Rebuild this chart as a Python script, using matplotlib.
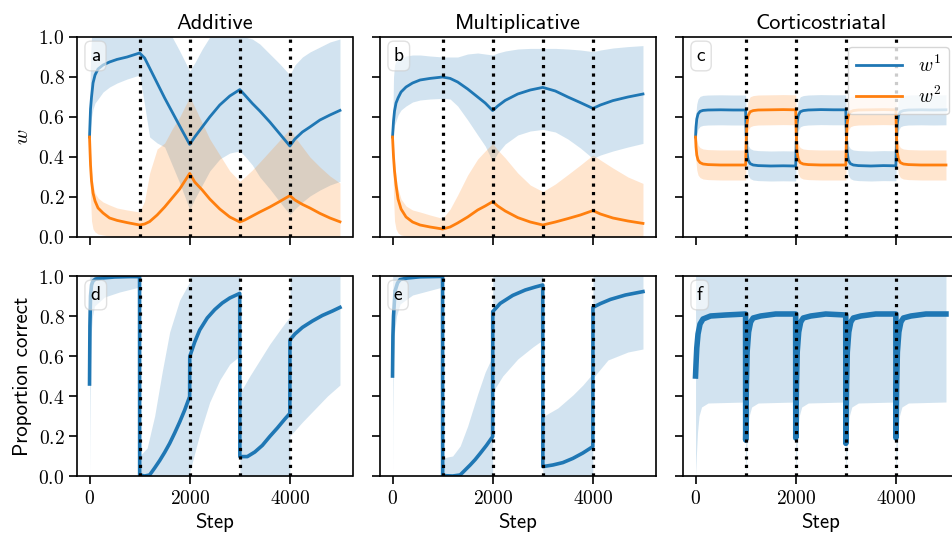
import matplotlib
matplotlib.use("Agg")
import matplotlib.pyplot as plt
from matplotlib.ticker import FuncFormatter
from matplotlib.lines import Line2D

plt.rcParams['mathtext.fontset'] = 'cm'
plt.rcParams['axes.unicode_minus'] = False

BLUE = '#1f77b4'
ORANGE = '#ff7f0e'

titles = ['Additive', 'Multiplicative', 'Corticostriatal']
letters = [['a', 'b', 'c'], ['d', 'e', 'f']]
reversals = [1000, 2000, 3000, 4000]
xticks = [0, 2000, 4000]
yticks = [0.0, 0.2, 0.4, 0.6, 0.8, 1.0]

# ---------------- Panel a (Additive, weights) ----------------
a_step = [0, 20, 40, 70, 110, 170, 270, 400, 550, 750, 1000, 1100, 1200, 1350, 1500,
          1650, 1800, 2000, 2100, 2250, 2400, 2600, 2800, 3000, 3100, 3250, 3400, 3600,
          3800, 4000, 4100, 4250, 4400, 4600, 4800, 5000]
a_w1 = [0.50, 0.64, 0.70, 0.77, 0.81, 0.84, 0.86, 0.875, 0.888, 0.90, 0.92, 0.895, 0.845,
        0.77, 0.695, 0.625, 0.555, 0.463, 0.50, 0.55, 0.60, 0.66, 0.705, 0.737, 0.71,
        0.668, 0.63, 0.575, 0.515, 0.455, 0.49, 0.525, 0.55, 0.585, 0.61, 0.633]
a_w2 = [0.50, 0.36, 0.28, 0.22, 0.18, 0.145, 0.12, 0.095, 0.083, 0.072, 0.060, 0.065,
        0.077, 0.11, 0.15, 0.195, 0.24, 0.318, 0.275, 0.235, 0.19, 0.14, 0.10, 0.075,
        0.085, 0.105, 0.125, 0.15, 0.178, 0.207, 0.185, 0.163, 0.145, 0.118, 0.095, 0.076]
a_w1_hi = [0.50, 0.90, 1.0, 1.0, 1.0, 1.0, 1.0, 1.0, 1.0, 1.0, 1.0, 1.0, 1.0, 1.0, 1.0,
           1.0, 0.93, 0.83, 0.87, 0.94, 1.0, 1.0, 1.0, 1.0, 1.0, 0.99, 0.965, 0.915,
           0.865, 0.81, 0.86, 0.90, 0.925, 0.95, 0.975, 0.99]
a_w1_lo = [0.50, 0.55, 0.60, 0.64, 0.67, 0.69, 0.725, 0.75, 0.77, 0.79, 0.81, 0.66, 0.50,
           0.47, 0.45, 0.36, 0.27, 0.137, 0.19, 0.26, 0.33, 0.39, 0.42, 0.43, 0.405,
           0.36, 0.30, 0.24, 0.175, 0.112, 0.14, 0.175, 0.205, 0.235, 0.26, 0.278]
a_w2_hi = [0.50, 0.42, 0.33, 0.26, 0.22, 0.195, 0.175, 0.16, 0.145, 0.135, 0.125, 0.18,
           0.32, 0.44, 0.47, 0.54, 0.60, 0.70, 0.65, 0.57, 0.49, 0.41, 0.33, 0.278, 0.30,
           0.335, 0.375, 0.43, 0.485, 0.54, 0.50, 0.45, 0.40, 0.35, 0.305, 0.27]
a_w2_lo = [0.50, 0.20, 0.08, 0.04, 0.025, 0.015, 0.01, 0.005, 0.0, 0.0, 0.0, 0.0, 0.0,
           0.0, 0.0, 0.0, 0.0, 0.0, 0.0, 0.0, 0.0, 0.0, 0.0, 0.0, 0.0, 0.0, 0.0, 0.0,
           0.0, 0.0, 0.0, 0.0, 0.0, 0.0, 0.0, 0.0]

# ---------------- Panel b (Multiplicative, weights) ----------------
b_step = [0, 20, 40, 70, 110, 170, 270, 400, 550, 750, 1000, 1150, 1300, 1500, 1700,
          1850, 2000, 2100, 2250, 2500, 2750, 3000, 3250, 3500, 3750, 4000, 4150, 4400,
          4700, 5000]
b_w1 = [0.50, 0.58, 0.63, 0.67, 0.695, 0.725, 0.75, 0.77, 0.785, 0.793, 0.80, 0.793,
        0.775, 0.74, 0.70, 0.67, 0.632, 0.655, 0.683, 0.715, 0.735, 0.748, 0.73, 0.70,
        0.672, 0.643, 0.66, 0.682, 0.70, 0.715]
b_w2 = [0.50, 0.40, 0.33, 0.26, 0.19, 0.14, 0.10, 0.075, 0.06, 0.05, 0.04, 0.05, 0.07,
        0.10, 0.135, 0.155, 0.177, 0.155, 0.13, 0.097, 0.075, 0.06, 0.075, 0.092, 0.11,
        0.132, 0.115, 0.095, 0.08, 0.068]
b_w1_hi = [0.50, 0.80, 0.86, 0.88, 0.885, 0.89, 0.905, 0.91, 0.91, 0.905, 0.90, 0.90,
           0.90, 0.915, 0.92, 0.915, 0.91, 0.92, 0.93, 0.94, 0.943, 0.943, 0.943, 0.94,
           0.935, 0.927, 0.935, 0.945, 0.952, 0.957]
b_w1_lo = [0.50, 0.53, 0.56, 0.58, 0.61, 0.635, 0.655, 0.675, 0.685, 0.69, 0.693, 0.69,
           0.655, 0.585, 0.51, 0.455, 0.377, 0.42, 0.465, 0.51, 0.53, 0.538, 0.525, 0.49,
           0.445, 0.393, 0.41, 0.43, 0.45, 0.468]
b_w2_hi = [0.50, 0.45, 0.38, 0.30, 0.24, 0.19, 0.155, 0.135, 0.125, 0.11, 0.093, 0.14,
           0.21, 0.31, 0.39, 0.43, 0.468, 0.435, 0.395, 0.32, 0.26, 0.227, 0.265, 0.312,
           0.36, 0.41, 0.385, 0.345, 0.30, 0.268]
b_w2_lo = [0.50, 0.20, 0.08, 0.04, 0.02, 0.01, 0.005, 0.0, 0.0, 0.0, 0.0, 0.0, 0.0, 0.0,
           0.0, 0.0, 0.0, 0.0, 0.0, 0.0, 0.0, 0.0, 0.0, 0.0, 0.0, 0.0, 0.0, 0.0, 0.0, 0.0]

# ---------------- Panel c (Corticostriatal, weights) ----------------
c_step = [0, 10, 25, 50, 90, 150, 250, 500, 750,
          1000, 1010, 1025, 1050, 1090, 1150, 1250, 1500, 1750,
          2000, 2010, 2025, 2050, 2090, 2150, 2250, 2500, 2750,
          3000, 3010, 3025, 3050, 3090, 3150, 3250, 3500, 3750,
          4000, 4010, 4025, 4050, 4090, 4150, 4250, 4500, 4750, 5000]
c_w1 = [0.50, 0.55, 0.59, 0.615, 0.628, 0.633, 0.635, 0.636, 0.635,
        0.635, 0.52, 0.43, 0.385, 0.367, 0.36, 0.357, 0.355, 0.356,
        0.355, 0.47, 0.56, 0.607, 0.626, 0.632, 0.635, 0.637, 0.636,
        0.636, 0.52, 0.43, 0.385, 0.367, 0.36, 0.357, 0.355, 0.357,
        0.356, 0.47, 0.56, 0.607, 0.626, 0.632, 0.635, 0.636, 0.635, 0.636]
c_w2 = [0.50, 0.45, 0.41, 0.385, 0.372, 0.365, 0.362, 0.36, 0.36,
        0.36, 0.47, 0.56, 0.607, 0.626, 0.632, 0.635, 0.636, 0.637,
        0.636, 0.52, 0.43, 0.39, 0.372, 0.365, 0.362, 0.36, 0.36,
        0.36, 0.47, 0.56, 0.607, 0.626, 0.632, 0.635, 0.636, 0.637,
        0.636, 0.52, 0.43, 0.39, 0.372, 0.365, 0.362, 0.36, 0.36, 0.36]
c_spread = 0.075

# ---------------- Panel d (Additive, proportion correct) ----------------
d_step = [0, 8, 20, 40, 70, 120, 250, 500, 800, 999, 1001, 1100, 1200, 1300, 1400, 1500,
          1600, 1700, 1800, 1900, 1999, 2001, 2100, 2200, 2350, 2500, 2650, 2800, 2999,
          3001, 3150, 3300, 3450, 3600, 3750, 3900, 3999, 4001, 4100, 4250, 4450, 4650,
          4850, 5000]
d_pc = [0.46, 0.75, 0.90, 0.955, 0.975, 0.985, 0.99, 0.995, 0.997, 0.997, 0.005, 0.0,
        0.005, 0.04, 0.077, 0.118, 0.163, 0.215, 0.27, 0.33, 0.397, 0.597, 0.67, 0.73,
        0.79, 0.832, 0.865, 0.89, 0.913, 0.097, 0.097, 0.12, 0.153, 0.198, 0.24, 0.285,
        0.313, 0.68, 0.71, 0.743, 0.775, 0.803, 0.825, 0.843]
d_band_step = [0, 5, 15, 30, 60, 100, 300, 600, 999, 1001, 1150, 1300, 1450, 1600, 1800,
               1999, 2001, 2200, 2400, 2600, 2800, 2999, 3001, 3200, 3400, 3600, 3800,
               3999, 4001, 4250, 4500, 4750, 5000]
d_hi = [0.95, 1.0, 1.0, 1.0, 1.0, 1.0, 1.0, 1.0, 1.0, 0.10, 0.14, 0.30, 0.52, 0.72, 0.88,
        0.97, 1.0, 1.0, 1.0, 1.0, 1.0, 1.0, 0.413, 0.50, 0.58, 0.66, 0.73, 0.797, 1.0,
        1.0, 1.0, 1.0, 1.0]
d_lo = [0.0, 0.20, 0.50, 0.70, 0.80, 0.85, 0.895, 0.92, 0.945, 0.0, 0.0, 0.0, 0.0, 0.0,
        0.0, 0.0, 0.02, 0.21, 0.37, 0.48, 0.56, 0.60, 0.0, 0.0, 0.0, 0.0, 0.0, 0.0, 0.20,
        0.27, 0.335, 0.40, 0.455]

# ---------------- Panel e (Multiplicative, proportion correct) ----------------
e_step = [0, 8, 20, 50, 100, 150, 300, 550, 999, 1001, 1200, 1350, 1450, 1550, 1650,
          1750, 1875, 1999, 2001, 2150, 2400, 2650, 2850, 2999, 3001, 3200, 3400, 3600,
          3800, 3999, 4001, 4150, 4350, 4650, 5000]
e_pc = [0.50, 0.70, 0.80, 0.925, 0.965, 0.982, 0.99, 0.996, 0.998, 0.002, 0.0, 0.005,
        0.03, 0.055, 0.082, 0.113, 0.153, 0.197, 0.822, 0.863, 0.903, 0.93, 0.945, 0.955,
        0.047, 0.055, 0.067, 0.088, 0.115, 0.147, 0.843, 0.862, 0.883, 0.905, 0.922]
e_band_step = [0, 5, 15, 40, 80, 150, 400, 999, 1001, 1200, 1350, 1500, 1700, 1850, 1999,
               2001, 2200, 2500, 2800, 2999, 3001, 3300, 3600, 3800, 3999, 4001, 4300,
               4700, 5000]
e_hi = [0.95, 1.0, 1.0, 1.0, 1.0, 1.0, 1.0, 1.0, 0.09, 0.10, 0.15, 0.25, 0.41, 0.52, 0.60,
        1.0, 1.0, 1.0, 1.0, 1.0, 0.297, 0.34, 0.405, 0.455, 0.513, 1.0, 1.0, 1.0, 1.0]
e_lo = [0.0, 0.30, 0.55, 0.72, 0.80, 0.86, 0.905, 0.945, 0.0, 0.0, 0.0, 0.0, 0.0, 0.0,
        0.0, 0.42, 0.50, 0.585, 0.645, 0.68, 0.0, 0.0, 0.0, 0.0, 0.0, 0.49, 0.58, 0.62,
        0.635]

# ---------------- Panel f (Corticostriatal, proportion correct) ----------------
f_step = [0, 10, 25, 50, 90, 150, 300, 600, 999,
          1001, 1015, 1030, 1060, 1100, 1150, 1300, 1600, 1999,
          2001, 2015, 2030, 2060, 2100, 2150, 2300, 2600, 2999,
          3001, 3015, 3030, 3060, 3100, 3150, 3300, 3600, 3999,
          4001, 4015, 4030, 4060, 4100, 4150, 4300, 4600, 5000]
f_pc = [0.50, 0.56, 0.64, 0.71, 0.76, 0.785, 0.80, 0.805, 0.81,
        0.18, 0.45, 0.62, 0.72, 0.77, 0.79, 0.80, 0.81, 0.81,
        0.19, 0.45, 0.62, 0.72, 0.77, 0.79, 0.80, 0.81, 0.805,
        0.163, 0.45, 0.62, 0.72, 0.77, 0.79, 0.80, 0.81, 0.81,
        0.19, 0.45, 0.62, 0.72, 0.77, 0.79, 0.80, 0.81, 0.81]
f_band_step = [0, 20, 40, 70, 120, 250, 999,
               1001, 1020, 1040, 1070, 1120, 1250, 1999,
               2001, 2020, 2040, 2070, 2120, 2250, 2999,
               3001, 3020, 3040, 3070, 3120, 3250, 3999,
               4001, 4020, 4040, 4070, 4120, 4250, 5000]
f_lo = [0.0, 0.12, 0.22, 0.30, 0.345, 0.365, 0.37,
        0.0, 0.12, 0.22, 0.30, 0.345, 0.365, 0.37,
        0.0, 0.12, 0.22, 0.30, 0.345, 0.365, 0.37,
        0.0, 0.12, 0.22, 0.30, 0.345, 0.365, 0.37,
        0.0, 0.12, 0.22, 0.30, 0.345, 0.365, 0.37]
f_hi = 1.0

# ---------------- Figure ----------------
W, H = 952, 535
fig = plt.figure(figsize=(W / 100, H / 100), dpi=100)

col_left = [77, 380, 683]
row_top = [37, 276]
ax_w, ax_h = 275.5, 200

axes = [[None] * 3 for _ in range(2)]
for r in range(2):
    for c in range(3):
        l = col_left[c] / W
        b = 1 - (row_top[r] + ax_h) / H
        axes[r][c] = fig.add_axes([l, b, ax_w / W, ax_h / H])

SANS = 'cmss10'
TICK_FS = 14
LAB_FS = 15
TITLE_FS = 16

# top row: weights
def weights_panel(ax, step, w1, w2, w1lo, w1hi, w2lo, w2hi):
    ax.fill_between(step, w1lo, w1hi, color=BLUE, alpha=0.2, lw=0)
    ax.fill_between(step, w2lo, w2hi, color=ORANGE, alpha=0.2, lw=0)
    ax.plot(step, w1, color=BLUE, lw=2.0)
    ax.plot(step, w2, color=ORANGE, lw=2.0)

weights_panel(axes[0][0], a_step, a_w1, a_w2, a_w1_lo, a_w1_hi, a_w2_lo, a_w2_hi)
weights_panel(axes[0][1], b_step, b_w1, b_w2, b_w1_lo, b_w1_hi, b_w2_lo, b_w2_hi)
c_w1_lo = [v - c_spread for v in c_w1]
c_w1_hi = [v + c_spread for v in c_w1]
c_w2_lo = [v - c_spread for v in c_w2]
c_w2_hi = [v + c_spread for v in c_w2]
weights_panel(axes[0][2], c_step, c_w1, c_w2, c_w1_lo, c_w1_hi, c_w2_lo, c_w2_hi)

# bottom row: proportion correct
ax = axes[1][0]
ax.fill_between(d_band_step, d_lo, d_hi, color=BLUE, alpha=0.2, lw=0)
ax.plot(d_step, d_pc, color=BLUE, lw=2.6)
ax = axes[1][1]
ax.fill_between(e_band_step, e_lo, e_hi, color=BLUE, alpha=0.2, lw=0)
ax.plot(e_step, e_pc, color=BLUE, lw=2.6)
ax = axes[1][2]
ax.fill_between(f_band_step, f_lo, f_hi, color=BLUE, alpha=0.2, lw=0)
ax.plot(f_step, f_pc, color=BLUE, lw=4.0)

for r in range(2):
    for c in range(3):
        ax = axes[r][c]
        for x in reversals:
            ax.axvline(x, color='black', ls=':', lw=2.3, zorder=5)
        ax.set_xlim(-250, 5250)
        ax.set_ylim(0, 1)
        ax.set_xticks(xticks)
        ax.set_yticks(yticks)
        ax.xaxis.set_major_formatter(FuncFormatter(lambda v, p: r'$%d$' % int(round(v))))
        ax.yaxis.set_major_formatter(FuncFormatter(lambda v, p: r'$%.1f$' % v))
        ax.tick_params(direction='out', length=5.5, width=1.2, labelsize=TICK_FS,
                       colors='black')
        if c > 0:
            ax.tick_params(labelleft=False)
        if r == 0:
            ax.tick_params(labelbottom=False)
        for s in ax.spines.values():
            s.set_linewidth(1.2)
        ax.text(0.05, 0.95, letters[r][c], transform=ax.transAxes, ha='left', va='top',
                fontsize=14, family=SANS, zorder=10,
                bbox=dict(boxstyle='round,pad=0.3', facecolor='white', alpha=0.6,
                          edgecolor='0.8'))
        if r == 0:
            ax.set_title(titles[c], family=SANS, fontsize=TITLE_FS)
        else:
            ax.set_xlabel('Step', family=SANS, fontsize=LAB_FS)

axes[0][0].set_ylabel('$w$', fontsize=LAB_FS)
axes[1][0].set_ylabel('Proportion correct', family=SANS, fontsize=LAB_FS)
axes[0][0].yaxis.set_label_coords(-0.165, 0.5)
axes[1][0].yaxis.set_label_coords(-0.165, 0.5)

handles = [Line2D([], [], color=BLUE, lw=2.0, label='$w^1$'),
           Line2D([], [], color=ORANGE, lw=2.0, label='$w^2$')]
axes[0][2].legend(handles=handles, loc='upper right', fontsize=14, handlelength=2.4)

fig.savefig('out.png', dpi=100)
